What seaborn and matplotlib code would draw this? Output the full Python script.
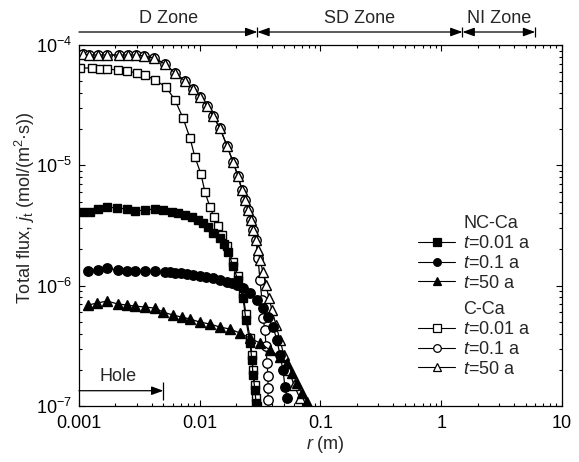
import matplotlib
matplotlib.use("Agg")
import matplotlib.pyplot as plt
from matplotlib.lines import Line2D
from matplotlib.ticker import FuncFormatter, NullFormatter, LogLocator
import seaborn as sns

# radius r (m) and total flux j_t (mol/(m2*s))
nc_001_r = [0.00106, 0.00123, 0.00144, 0.00171, 0.00206, 0.00250, 0.00291, 0.00352, 0.00426, 0.00496,
            0.00589, 0.00660, 0.00755, 0.00862, 0.00967, 0.01064, 0.01170, 0.01287, 0.01471, 0.01588,
            0.01714, 0.01886, 0.02074, 0.02281, 0.02415, 0.02607, 0.02708, 0.02761, 0.02868, 0.02923]
nc_001_j = [4.09e-6, 4.09e-6, 4.34e-6, 4.50e-6, 4.42e-6, 4.34e-6, 4.17e-6, 4.25e-6, 4.34e-6, 4.25e-6,
            4.09e-6, 4.01e-6, 3.86e-6, 3.72e-6, 3.51e-6, 3.31e-6, 3.07e-6, 2.74e-6, 2.49e-6, 2.22e-6,
            1.90e-6, 1.46e-6, 1.11e-6, 7.88e-7, 5.18e-7, 3.33e-7, 2.41e-7, 1.81e-7, 1.36e-7, 1.06e-7]

nc_01_r = [0.00119, 0.00144, 0.00171, 0.00210, 0.00250, 0.00291, 0.00352, 0.00426, 0.00515, 0.00567,
           0.00624, 0.00699, 0.00784, 0.00879, 0.01005, 0.01127, 0.01287, 0.01471, 0.01682, 0.01849,
           0.02034, 0.02281, 0.02607, 0.02979, 0.03341, 0.03675, 0.04043, 0.04363, 0.04619, 0.04892,
           0.05082, 0.05279]
nc_01_j = [1.32e-6, 1.35e-6, 1.40e-6, 1.35e-6, 1.32e-6, 1.32e-6, 1.32e-6, 1.32e-6, 1.30e-6, 1.30e-6,
           1.27e-6, 1.27e-6, 1.25e-6, 1.22e-6, 1.20e-6, 1.18e-6, 1.16e-6, 1.11e-6, 1.07e-6, 1.05e-6,
           1.01e-6, 9.55e-7, 8.68e-7, 7.59e-7, 6.51e-7, 5.48e-7, 4.53e-7, 3.53e-7, 2.65e-7, 1.99e-7,
           1.44e-7, 1.16e-7]

nc_50_r = [0.00119, 0.00141, 0.00171, 0.00210, 0.00250, 0.00291, 0.00352, 0.00426, 0.00496, 0.00600,
           0.00713, 0.00830, 0.01005, 0.01216, 0.01471, 0.01781, 0.02154, 0.02607, 0.03155, 0.03818,
           0.04619, 0.05279, 0.05807, 0.06389, 0.07027, 0.07730]
nc_50_j = [6.90e-7, 7.17e-7, 7.45e-7, 7.04e-7, 6.90e-7, 6.77e-7, 6.64e-7, 6.51e-7, 6.04e-7, 5.70e-7,
           5.48e-7, 5.28e-7, 4.98e-7, 4.80e-7, 4.53e-7, 4.36e-7, 4.04e-7, 3.67e-7, 3.33e-7, 2.92e-7,
           2.55e-7, 2.27e-7, 1.88e-7, 1.55e-7, 1.28e-7, 1.08e-7]

c_001_r = [0.00102, 0.00128, 0.00149, 0.00171, 0.00210, 0.00250, 0.00302, 0.00352, 0.00426, 0.00525,
           0.00624, 0.00727, 0.00830, 0.00913, 0.01024, 0.01105, 0.01216, 0.01312, 0.01416, 0.01529,
           0.01682, 0.01886, 0.02074, 0.02281, 0.02415, 0.02607, 0.02708, 0.02761, 0.02868, 0.02923,
           0.02979]
c_001_j = [6.44e-5, 6.44e-5, 6.32e-5, 6.32e-5, 6.20e-5, 6.08e-5, 5.85e-5, 5.63e-5, 5.12e-5, 4.48e-5,
           3.49e-5, 2.47e-5, 1.69e-5, 1.17e-5, 8.47e-6, 6.00e-6, 4.50e-6, 3.72e-6, 3.13e-6, 2.63e-6,
           2.13e-6, 1.57e-6, 1.20e-6, 8.51e-7, 5.81e-7, 3.67e-7, 2.65e-7, 1.99e-7, 1.49e-7, 1.16e-7,
           1.00e-7]

c_01_r = [0.00108, 0.00121, 0.00144, 0.00171, 0.00214, 0.00255, 0.00297, 0.00345, 0.00418, 0.00515,
          0.00624, 0.00755, 0.00879, 0.01005, 0.01148, 0.01287, 0.01471, 0.01682, 0.01886, 0.02074,
          0.02238, 0.02370, 0.02509, 0.02657, 0.02761, 0.02923, 0.03037, 0.03155, 0.03277, 0.03341,
          0.03470, 0.03538, 0.03606, 0.03675, 0.03675, 0.03675]
c_01_j = [8.42e-5, 8.26e-5, 8.26e-5, 8.26e-5, 8.26e-5, 8.26e-5, 8.26e-5, 8.10e-5, 7.80e-5, 6.95e-5,
          5.85e-5, 5.02e-5, 4.31e-5, 3.70e-5, 3.11e-5, 2.57e-5, 2.04e-5, 1.45e-5, 1.07e-5, 8.15e-6,
          6.23e-6, 5.15e-6, 4.25e-6, 3.51e-6, 2.90e-6, 2.39e-6, 1.70e-6, 1.11e-6, 7.59e-7, 5.38e-7,
          4.27e-7, 3.15e-7, 2.27e-7, 1.77e-7, 1.41e-7, 1.12e-7]

c_50_r = [0.00108, 0.00121, 0.00144, 0.00171, 0.00214, 0.00255, 0.00297, 0.00345, 0.00418, 0.00515,
          0.00624, 0.00755, 0.00879, 0.01005, 0.01148, 0.01287, 0.01471, 0.01682, 0.01886, 0.02074,
          0.02238, 0.02370, 0.02509, 0.02657, 0.02761, 0.02923, 0.03037, 0.03155, 0.03341, 0.03538,
          0.03746, 0.03967, 0.04281, 0.04619, 0.04984, 0.05484, 0.06033, 0.06766, 0.07441]
c_50_j = [8.42e-5, 8.26e-5, 8.26e-5, 8.26e-5, 8.26e-5, 8.26e-5, 8.26e-5, 8.10e-5, 7.80e-5, 6.95e-5,
          5.85e-5, 5.02e-5, 4.31e-5, 3.70e-5, 3.11e-5, 2.57e-5, 2.04e-5, 1.45e-5, 1.07e-5, 8.15e-6,
          6.23e-6, 5.15e-6, 4.25e-6, 3.51e-6, 2.90e-6, 2.39e-6, 1.98e-6, 1.63e-6, 1.30e-6, 1.01e-6,
          7.88e-7, 6.27e-7, 4.70e-7, 3.53e-7, 2.65e-7, 1.99e-7, 1.49e-7, 1.16e-7, 1.00e-7]

time_labels = ["$t$=0.01 a", "$t$=0.1 a", "$t$=50 a"]
group_labels = ["NC-Ca", "C-Ca"]

# zone boundaries (m) along the top
zone_edges = [0.001, 0.03, 1.5, 6]
zone_names = ["D Zone", "SD Zone", "NI Zone"]
hole_r = 0.005

sns.set_style("ticks")
plt.rcParams["font.family"] = ["Liberation Sans", "DejaVu Sans"]
plt.rcParams["mathtext.fontset"] = "custom"
plt.rcParams["mathtext.rm"] = "Liberation Sans"
plt.rcParams["mathtext.it"] = "Liberation Sans:italic"
plt.rcParams["mathtext.bf"] = "Liberation Sans:bold"
plt.rcParams["font.size"] = 13

fig = plt.figure(figsize=(5.79, 4.62), dpi=100)
fig.patch.set_facecolor("white")
ax = fig.add_axes([0.1364, 0.1212, 0.8342, 0.7814])

series = [
    (c_001_r, c_001_j, "s", "white", 6.0),
    (c_01_r, c_01_j, "o", "white", 6.8),
    (c_50_r, c_50_j, "^", "white", 7.2),
    (nc_001_r, nc_001_j, "s", "black", 6.0),
    (nc_01_r, nc_01_j, "o", "black", 6.8),
    (nc_50_r, nc_50_j, "^", "black", 7.2),
]
for r, j, mk, fc, ms in series:
    sns.lineplot(x=r, y=j, ax=ax, sort=False, estimator=None, color="black",
                 linewidth=0.9, marker=mk, markersize=ms, markerfacecolor=fc,
                 markeredgecolor="black", markeredgewidth=1.0)

ax.set_xscale("log")
ax.set_yscale("log")
ax.set_xlim(0.001, 10)
ax.set_ylim(1e-7, 1e-4)
ax.xaxis.set_major_formatter(FuncFormatter(lambda v, _: f"{v:g}"))
ax.xaxis.set_minor_locator(LogLocator(base=10, subs=range(2, 10)))
ax.xaxis.set_minor_formatter(NullFormatter())
ax.yaxis.set_minor_locator(LogLocator(base=10, subs=range(2, 10)))
ax.yaxis.set_minor_formatter(NullFormatter())
ax.tick_params(which="both", direction="in", top=True, right=True, width=0.8, colors="black")
ax.tick_params(which="major", length=4.3, pad=5, labelsize=13)
ax.tick_params(axis="x", which="major", pad=6.5)
ax.tick_params(which="minor", length=2.4)
for s in ax.spines.values():
    s.set_color("black")
    s.set_linewidth(0.9)

ax.set_xlabel("$r$ (m)", fontsize=13)
ax.set_ylabel("Total flux, $j_\\mathrm{t}$ (mol/(m$^2$·s))", fontsize=13)
ax.xaxis.set_label_coords(0.51, -0.078)
ax.yaxis.set_label_coords(-0.086, 0.55)

# zone arrows above the plot
xt = ax.get_xaxis_transform()
arrow_y = 1.036
styles = ["-|>", "<|-|>", "<|-|>"]
for i, name in enumerate(zone_names):
    a, b = zone_edges[i], zone_edges[i + 1]
    ax.annotate("", xy=(b, arrow_y), xytext=(a, arrow_y), xycoords=xt, textcoords=xt,
                annotation_clip=False,
                arrowprops=dict(arrowstyle=styles[i] + ",head_length=0.55,head_width=0.2",
                                color="black", lw=0.9, shrinkA=0, shrinkB=0))
    ax.text((a * b) ** 0.5, 1.074, name, transform=xt, ha="center", va="center", fontsize=13)
ax.vlines(zone_edges[1:], 1.023, 1.049, transform=xt, colors="black", lw=0.9, clip_on=False)

# hole marker
ax.annotate("", xy=(hole_r, 1.34e-7), xytext=(0.001, 1.34e-7),
            arrowprops=dict(arrowstyle="-|>,head_length=0.55,head_width=0.2",
                            color="black", lw=0.9, shrinkA=0, shrinkB=0))
ax.vlines(hole_r, 1.12e-7, 1.57e-7, colors="black", lw=0.9)
ax.text(0.0021, 1.77e-7, "Hole", ha="center", va="center", fontsize=13)

# legend in two groups
def make_handles(fill):
    hs = [Line2D([], [], linestyle="none", marker=None, label=None)]
    for mk in ["s", "o", "^"]:
        hs.append(Line2D([], [], color="black", lw=0.8, marker=mk, markersize=5.5,
                         markerfacecolor=fill, markeredgecolor="black", markeredgewidth=0.9))
    return hs

leg_kw = dict(loc="upper left", frameon=False, borderpad=0, borderaxespad=0,
              handlelength=2.05, handletextpad=0.45, labelspacing=0.155, fontsize=13)
leg1 = ax.legend(make_handles("black"), [group_labels[0]] + time_labels,
                 bbox_to_anchor=(0.702, 0.528), **leg_kw)
ax.add_artist(leg1)
ax.legend(make_handles("white"), [group_labels[1]] + time_labels,
          bbox_to_anchor=(0.702, 0.290), **leg_kw)

fig.savefig("out.png", dpi=100, facecolor="white")
